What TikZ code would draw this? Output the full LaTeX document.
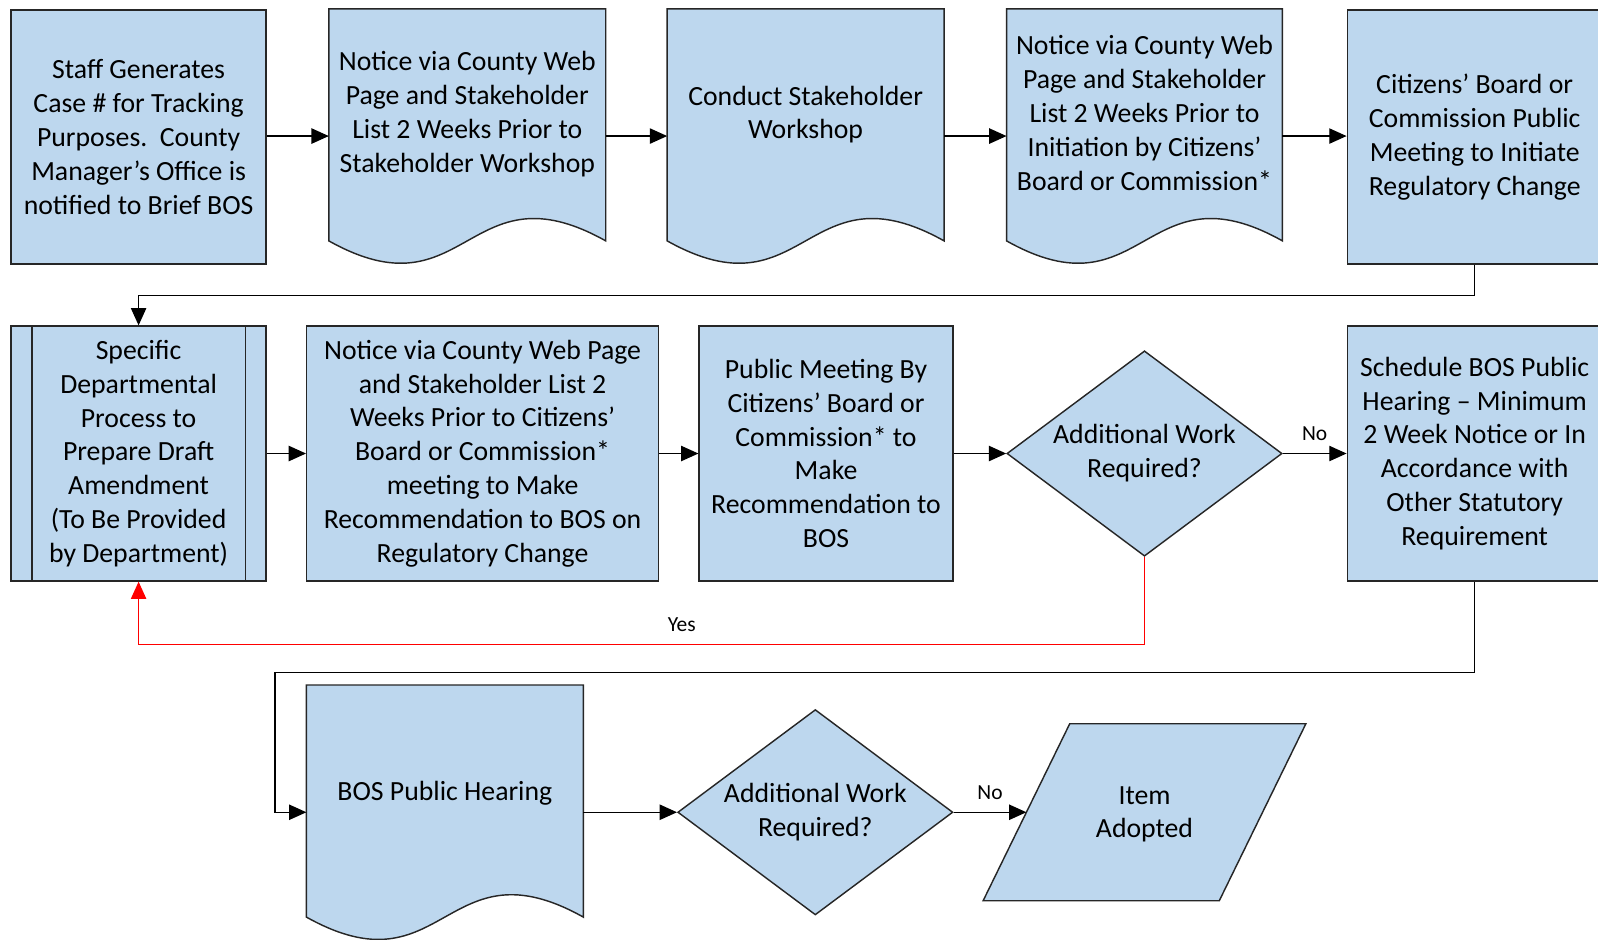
\documentclass[tikz,border=0pt]{standalone}
\usepackage{fontspec}
\setmainfont{Carlito}
\usepackage{xcolor}
\usepackage{tikz}
\usetikzlibrary{shapes,arrows.meta,positioning,calc}

\definecolor{boxblue}{HTML}{BDD7EE}
\definecolor{lineblack}{HTML}{262626}

\newcommand{\boxfont}{\fontsize{15.5}{18.9}\selectfont}
\newcommand{\tagfont}{\fontsize{12}{14}\selectfont}

% document shape round an empty frame node
\newcommand{\docshape}[1]{%
  \draw[shapeline] (#1.north west) -- (#1.north east) -- ($(#1.south east)+(0,-22)$)
    .. controls ($(#1.south)+(0,-98)$) and ($(#1.south)+(0,54)$) .. ($(#1.south west)+(0,-22)$) -- cycle;}
% data (parallelogram) shape round an empty frame node
\newcommand{\datashape}[1]{%
  \draw[shapeline] ($(#1.north west)+(42.5,0)$) -- ($(#1.north east)+(42.5,0)$)
    -- ($(#1.south east)+(-42.5,0)$) -- ($(#1.south west)+(-42.5,0)$) -- cycle;}

\begin{document}
\begin{tikzpicture}[x=0.2mm, y=-0.2mm,
    shapeline/.style={draw=lineblack, fill=boxblue, line width=0.8pt},
    procbox/.style={shapeline, rectangle, align=center, font=\boxfont, inner sep=0pt, minimum height=49.8mm},
    docframe/.style={rectangle, inner sep=0pt, minimum height=49.8mm},
    boxtext/.style={align=center, font=\boxfont, inner sep=0pt},
    decision/.style={shapeline, diamond, aspect=1.34, align=center, font=\boxfont, inner sep=0pt,
        minimum width=54mm, minimum height=40.3mm},
    conn/.style={draw=black, line width=0.8pt, -{Triangle[length=3.4mm,width=3mm]}},
    yesline/.style={conn, draw=red},
    tag/.style={font=\tagfont, inner sep=0pt}]

    \useasboundingbox (0,0) rectangle (1568,922);
    \clip (0,0) rectangle (1568,922);
    \fill[white] (0,0) rectangle (1568,922);

    % Row 1
    \node[procbox, minimum width=50mm] (staff) at (136,134.5)
        {Staff Generates\\Case \# for Tracking\\Purposes.\ \ County\\Manager’s Office is\\notified to Brief BOS};
    \node[docframe, minimum width=54.2mm] (notice1) at (458.5,133.5) {};
    \node[docframe, minimum width=54.2mm] (workshop) at (790.5,133.5) {};
    \node[docframe, minimum width=54mm] (notice2) at (1123,133.5) {};
    \node[procbox, minimum width=50mm] (initiate) at (1447,134.5)
        {Citizens’ Board or\\Commission Public\\Meeting to Initiate\\Regulatory Change};

    \docshape{notice1}
    \docshape{workshop}
    \docshape{notice2}
    \node[boxtext] (notice1text) at (458.5,112)
        {Notice via County Web\\Page and Stakeholder\\List 2 Weeks Prior to\\Stakeholder Workshop};
    \node[boxtext] (workshoptext) at (790.5,112.5) {Conduct Stakeholder\\Workshop};
    \node[boxtext] (notice2text) at (1123,111)
        {Notice via County Web\\Page and Stakeholder\\List 2 Weeks Prior to\\Initiation by Citizens’\\Board or Commission*};

    % Row 2
    \node[procbox, minimum width=50mm, minimum height=50mm] (deptprocess) at (136,445)
        {Specific\\Departmental\\Process to\\Prepare Draft\\Amendment\\(To Be Provided\\by Department)};
    \draw[shapeline, fill=none] ([xshift=4.2mm]deptprocess.north west) -- ([xshift=4.2mm]deptprocess.south west);
    \draw[shapeline, fill=none] ([xshift=-4.2mm]deptprocess.north east) -- ([xshift=-4.2mm]deptprocess.south east);
    \node[procbox, minimum width=69mm, minimum height=50mm] (notice3) at (473.5,445)
        {Notice via County Web Page\\and Stakeholder List 2\\Weeks Prior to Citizens’\\Board or Commission*\\meeting to Make\\Recommendation to BOS on\\Regulatory Change};
    \node[procbox, minimum width=49.8mm, minimum height=50mm] (recommend) at (810.5,445)
        {Public Meeting By\\Citizens’ Board or\\Commission* to\\Make\\Recommendation to\\BOS};
    \node[decision] (check1) at (1123,445) {Additional Work\\Required?};
    \node[procbox, minimum width=50mm, minimum height=50mm] (schedule) at (1447,445)
        {Schedule BOS Public\\Hearing – Minimum\\2 Week Notice or In\\Accordance with\\Other Statutory\\Requirement};

    % Row 3
    \node[docframe, minimum width=54.2mm] (hearing) at (436.5,797) {};
    \docshape{hearing}
    \node[boxtext] (hearingtext) at (436.5,778) {BOS Public Hearing};
    \node[decision] (check2) at (800,797) {Additional Work\\Required?};
    \node[docframe, minimum width=46.2mm, minimum height=34.6mm] (adopted) at (1123,797) {};
    \datashape{adopted}
    \node[boxtext] (adoptedtext) at (1123,799) {Item\\Adopted};

    % Connectors
    \draw[conn] (staff.east |- notice1.west) -- (notice1.west);
    \draw[conn] (notice1) -- (workshop);
    \draw[conn] (workshop) -- (notice2);
    \draw[conn] (notice2.east) -- (initiate.west |- notice2.east);
    \draw[conn] (initiate.south) -- ++(0,30) -| (deptprocess.north);
    \draw[conn] (deptprocess) -- (notice3);
    \draw[conn] (notice3) -- (recommend);
    \draw[conn] (recommend) -- (check1);
    \draw[conn] (check1) -- node[tag, above=2.3mm] (no1) {No} (schedule);
    \draw[yesline] (check1.south) -- ++(0,86) -| node[tag, pos=0.23, above=2.3mm] (yes1) {Yes} (deptprocess.south);
    \draw[conn] (schedule.south) -- ++(0,89) -| ([xshift=-6.2mm]hearing.west) -- (hearing.west);
    \draw[conn] (hearing) -- (check2);
    \draw[conn] (check2) -- node[tag, above=2.3mm] (no2) {No} (adopted);
\end{tikzpicture}
\end{document}
